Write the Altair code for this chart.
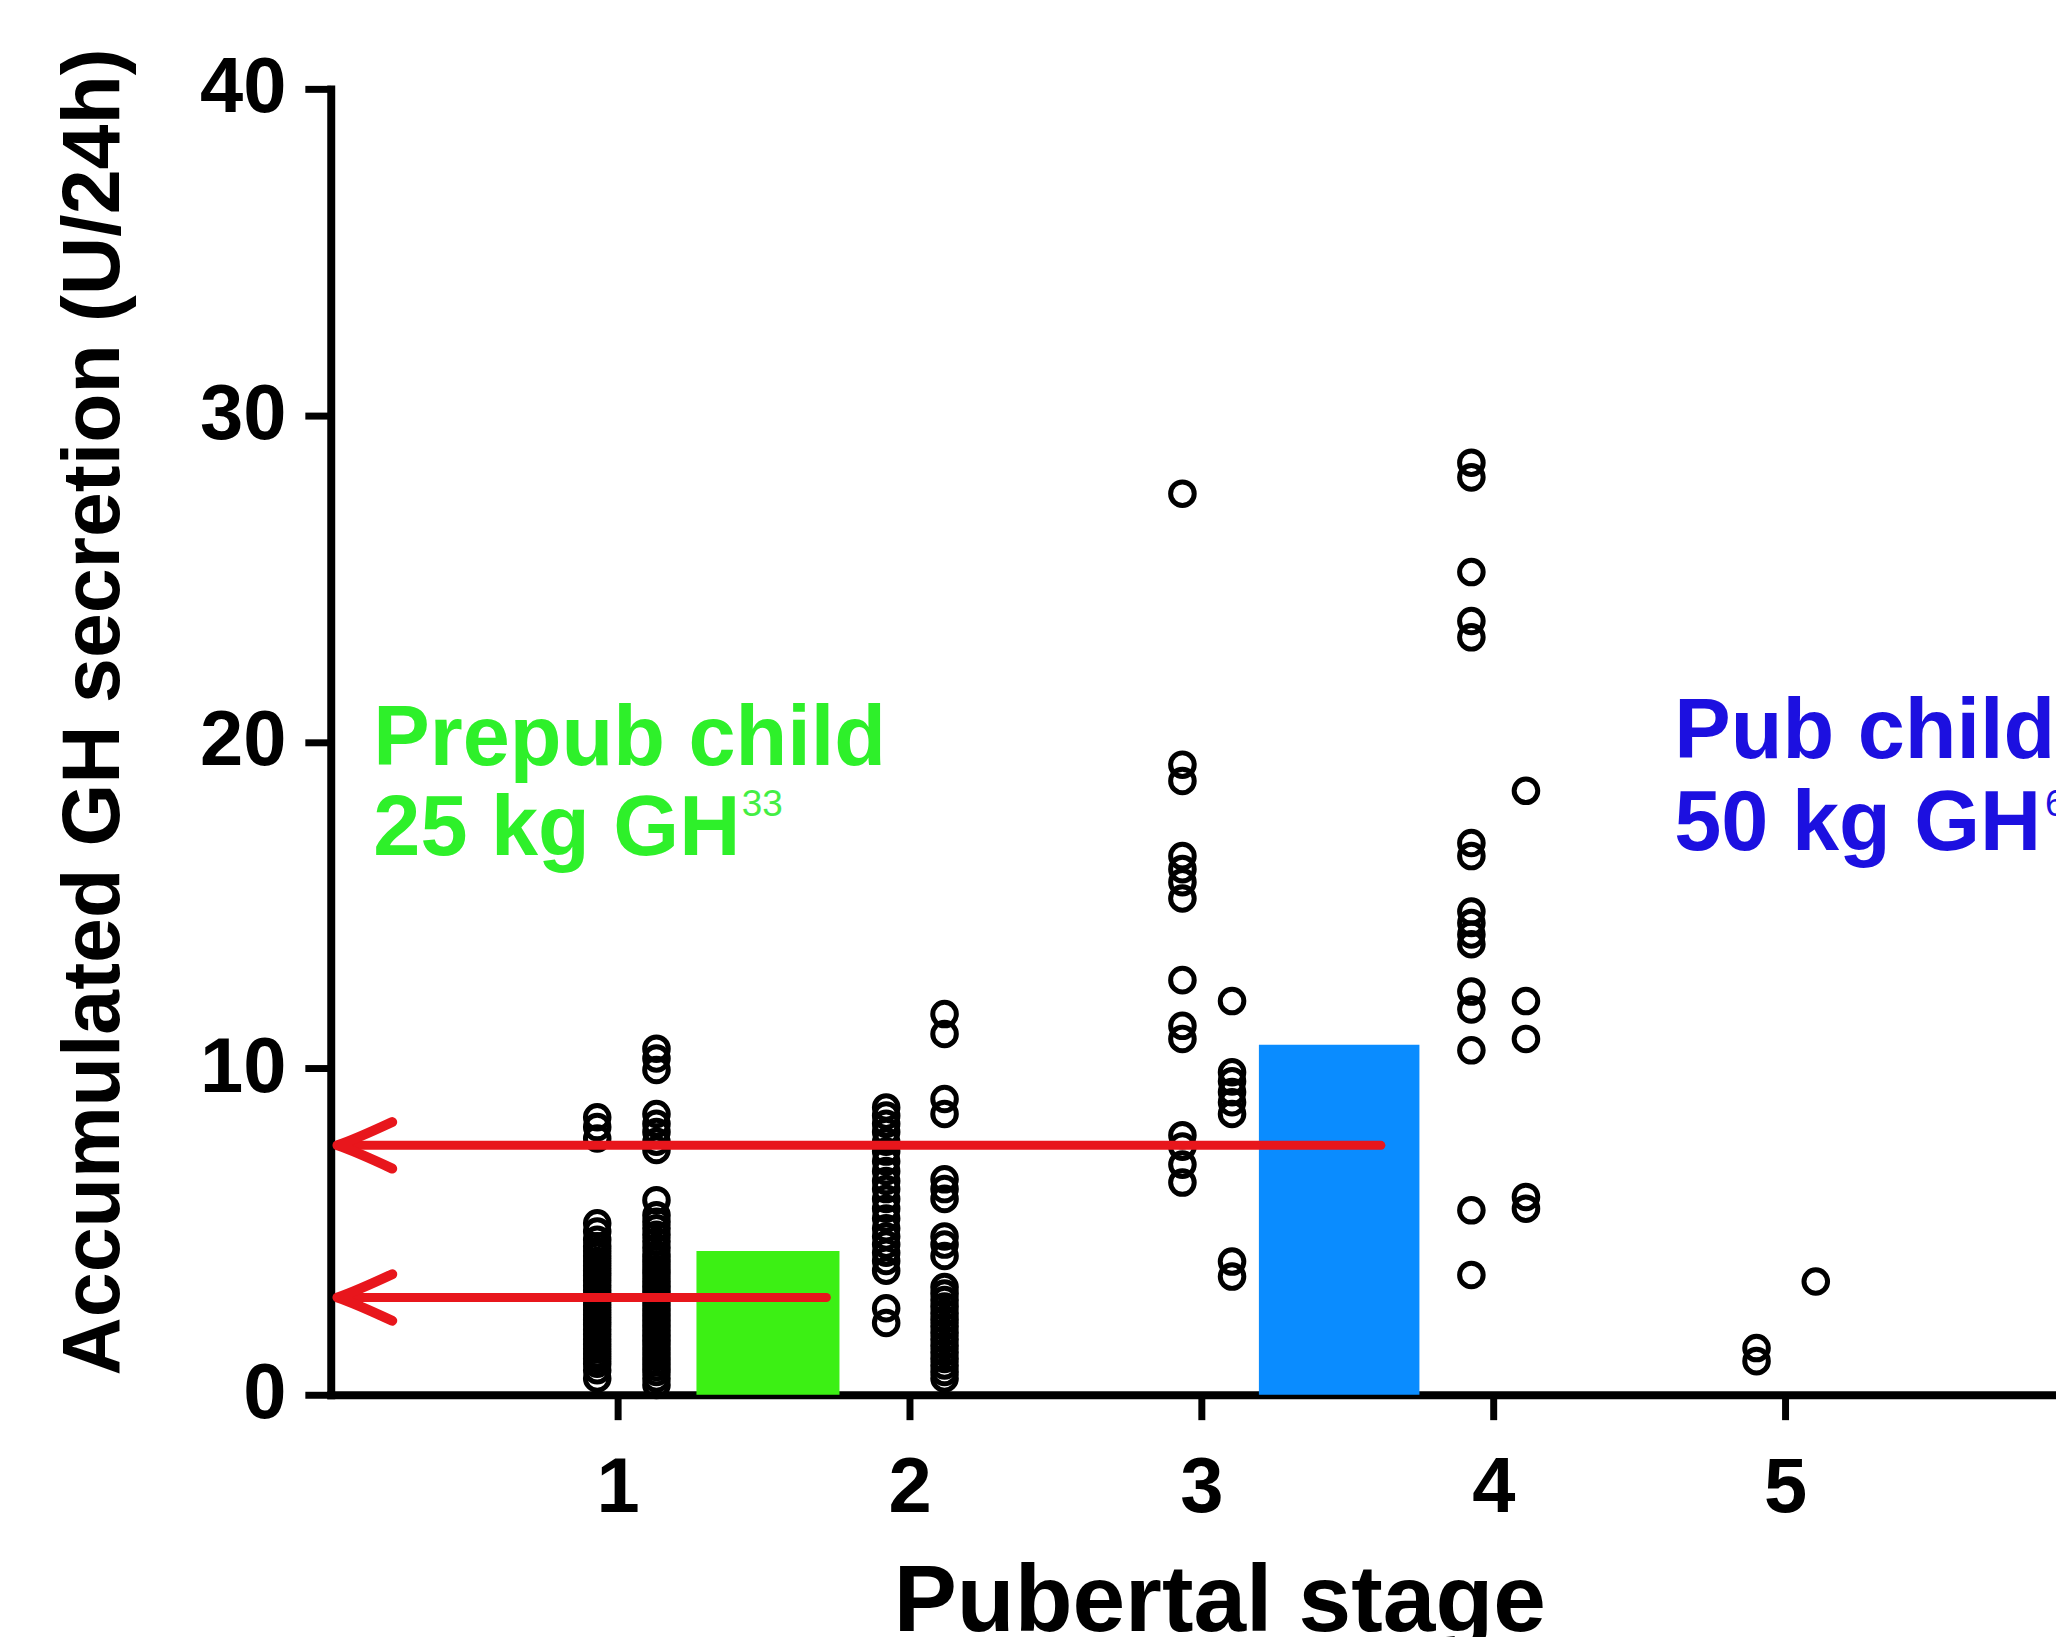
import altair as alt
import pandas as pd

# ---------------- data ----------------
# x position of each column of circles (stage, with its left/right group offset)
col_x = [0.93, 1.133, 1.92, 2.12, 2.935, 3.105, 3.925, 4.112, 4.902, 5.105]

s1_left = [8.5, 8.2, 7.85,
           5.25, 5.0, 4.75, 4.55, 4.4, 4.25, 4.1, 3.95, 3.8, 3.65, 3.5, 3.35, 3.2,
           3.05, 2.9, 2.75, 2.6, 2.45, 2.3, 2.15, 2.0, 1.85, 1.7, 1.55, 1.4, 1.25,
           1.1, 0.95, 0.75, 0.5]
s1_right = [10.6, 10.3, 9.95,
            8.6, 8.3, 8.05, 7.75, 7.5,
            5.96,
            5.5, 5.3, 5.1, 4.9, 4.7, 4.5, 4.3, 4.15, 4.0, 3.85, 3.7, 3.55, 3.4, 3.25,
            3.1, 2.95, 2.8, 2.65, 2.5, 2.35, 2.2, 2.05, 1.9, 1.75, 1.6, 1.45, 1.3,
            1.15, 1.0, 0.85, 0.7, 0.5, 0.3]
s2_left = [8.8, 8.55, 8.3, 8.05, 7.75, 7.45, 7.15, 6.85, 6.55, 6.3, 6.0, 5.7, 5.4,
           5.1, 4.85, 4.6, 4.35, 4.1, 3.8, 2.65, 2.2]
s2_right = [11.66, 11.05, 9.06, 8.6, 6.6, 6.3, 6.0, 4.85, 4.6, 4.25,
            3.3, 3.1, 2.9, 2.7, 2.5, 2.3, 2.1, 1.9, 1.7, 1.5, 1.3, 1.1, 0.9, 0.7, 0.5]
s3_left = [27.6, 19.3, 18.8, 16.5, 16.1, 15.7, 15.2, 12.7, 11.3, 10.9,
           7.95, 7.6, 7.05, 6.5]
s3_right = [12.06, 9.88, 9.6, 9.27, 8.96, 8.6, 4.08, 3.62]
s4_left = [28.55, 28.1, 25.2, 23.7, 23.2, 16.9, 16.5, 14.8, 14.45, 14.1, 13.8,
           12.35, 11.8, 10.55, 5.65, 3.67]
s4_right = [18.5, 12.06, 10.9, 6.06, 5.7]
s5_left = [1.43, 1.03]
s5_right = [3.47]

columns = [s1_left, s1_right, s2_left, s2_right, s3_left, s3_right,
           s4_left, s4_right, s5_left, s5_right]

# reference bars (prepubertal / pubertal child)
bar_x0 = [1.27, 3.197]
bar_x1 = [1.76, 3.747]
bar_top = [4.4, 10.72]
bar_color = ["#3cf014", "#0a8cff"]

# red arrows pointing to the y axis
arrow_tip_x = [0.04, 0.04]
arrow_end_x = [3.615, 1.715]
arrow_y = [7.64, 2.98]

# annotation texts (anchor in data units)
label_text = ["Prepub child", "25 kg GH", "Pub child", "50 kg GH"]
label_x = [0.163, 0.163, 4.62, 4.62]
label_y = [19.28, 16.54, 19.5, 16.69]
label_color = ["#2ef02a", "#2ef02a", "#1c10e0", "#1c10e0"]
sup_text = ["33", "6"]
sup_x = [1.425, 5.89]
sup_y = [17.73, 17.73]
sup_color = ["#44ee44", "#1c10e0"]

x_ticks = [1, 2, 3, 4, 5]
y_ticks = [0, 10, 20, 30, 40]

# ---------------- tables ----------------
pts = pd.DataFrame([{"x": col_x[i], "y": v} for i, vals in enumerate(columns) for v in vals])
bars = pd.DataFrame({"x": bar_x0, "x2": bar_x1, "y": [0, 0], "y2": bar_top, "c": bar_color})
arrows = pd.DataFrame({"x": arrow_tip_x, "x2": arrow_end_x, "y": arrow_y})
labels = pd.DataFrame({"x": label_x, "y": label_y, "t": label_text, "c": label_color})
sups = pd.DataFrame({"x": sup_x, "y": sup_y, "t": sup_text, "c": sup_color})

FONT = "Liberation Sans"

xs = alt.Scale(domain=[0.017, 5.928], nice=False, zero=False)
ys = alt.Scale(domain=[0, 40], nice=False, zero=False)

xaxis = alt.Axis(values=x_ticks, format="d", title="Pubertal stage",
                 titleFont=FONT, titleFontSize=95, titleFontWeight="bold", titleColor="black",
                 titleX=892, titleY=237, titleAlign="center", titleBaseline="alphabetic",
                 labelFont=FONT, labelFontSize=78, labelFontWeight="bold", labelColor="black",
                 labelPadding=30, labelFlush=False, labelOverlap=False,
                 tickSize=25, tickWidth=7, tickColor="black",
                 domainColor="black", domainWidth=8, domainCap="square", grid=False)
yaxis = alt.Axis(values=y_ticks, format="d", title="Accumulated GH secretion (U/24h)",
                 titleFont=FONT, titleFontSize=81, titleFontWeight="bold", titleColor="black",
                 titleAngle=270, titleX=-213, titleY=625, titleAlign="center",
                 titleBaseline="alphabetic",
                 labelFont=FONT, labelFontSize=78, labelFontWeight="bold", labelColor="black",
                 labelPadding=19, labelFlush=False, labelOverlap=False,
                 tickSize=26, tickWidth=7, tickColor="black",
                 domainColor="black", domainWidth=8, domainCap="square", grid=False)

X = alt.X("x:Q", scale=xs, axis=xaxis)
Y = alt.Y("y:Q", scale=ys, axis=yaxis)

bar_layer = alt.Chart(bars).mark_rect().encode(
    x=X, x2="x2:Q", y=Y, y2="y2:Q", color=alt.Color("c:N", scale=None))

pt_layer = alt.Chart(pts).mark_point(shape="circle", filled=False, size=560,
                                     strokeWidth=5, color="black", opacity=1).encode(x=X, y=Y)

line_layer = alt.Chart(arrows).mark_rule(color="#e8161c", strokeWidth=9,
                                         strokeCap="round").encode(x=X, x2="x2:Q", y=Y)

head_layer = alt.Chart(arrows).mark_point(
    shape="M2,-0.85 Q0.6,-0.2 0,0 Q0.6,0.2 2,0.85", filled=False, size=3025,
    strokeWidth=10, color="#e8161c", opacity=1, strokeCap="round", strokeJoin="round"
).encode(x=X, y=Y)

text_layer = alt.Chart(labels).mark_text(font=FONT, fontSize=85, fontWeight="bold",
                                         align="left", baseline="alphabetic").encode(
    x=X, y=Y, text="t:N", color=alt.Color("c:N", scale=None))

sup_layer = alt.Chart(sups).mark_text(font=FONT, fontSize=37, fontWeight="normal",
                                      align="left", baseline="alphabetic").encode(
    x=X, y=Y, text="t:N", color=alt.Color("c:N", scale=None))

chart = alt.layer(bar_layer, pt_layer, line_layer, head_layer, text_layer, sup_layer).properties(
    width=1732, height=1311,
    padding={"left": 324, "top": 78, "right": 0, "bottom": 240},
    autosize=alt.AutoSizeParams(type="none"),
    background="white",
).configure_view(strokeWidth=0)

chart.save("out.html", embed_options={"renderer": "svg", "actions": False})
